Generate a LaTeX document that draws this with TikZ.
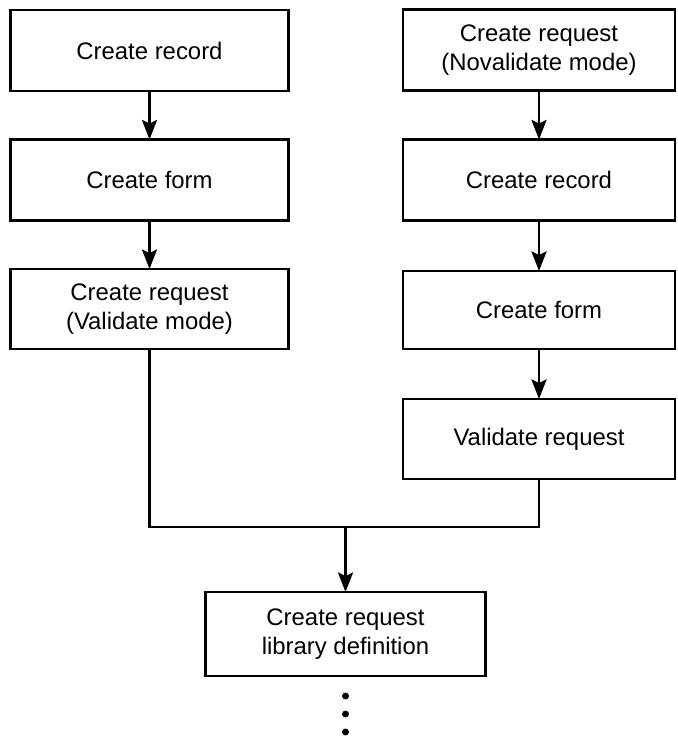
\documentclass[tikz,border=0pt]{standalone}
\usepackage{fontspec}
\setmainfont{Liberation Sans}
\usetikzlibrary{arrows.meta}

\begin{document}
\begin{tikzpicture}[x=0.02cm,y=-0.02cm,line width=1.5pt,
  every node/.style={font=\fontsize{13.6}{16.5}\selectfont},
  box/.style={draw, align=center, inner sep=0pt, outer sep=0pt, minimum width=5.56cm, minimum height=1.62cm},
  flow/.style={-{Stealth[length=3.9mm,width=3mm,inset=0.7mm]}}]
 \useasboundingbox (0,0) rectangle (678,737);
 % left branch
 \node[box] (lrec) at (149.5,50.5) {Create record};
 \node[box] (lform) at (149.5,180) {Create form};
 \node[box,minimum height=1.6cm] (lreq) at (149.5,309) {Create request\\(Validate mode)};
 % right branch
 \node[box,minimum width=5.44cm] (rreq) at (539,50) {Create request\\(Novalidate mode)};
 \node[box,minimum width=5.44cm] (rrec) at (539,180) {Create record};
 \node[box,minimum width=5.44cm,minimum height=1.56cm] (rform) at (539,310) {Create form};
 \node[box,minimum width=5.44cm,minimum height=1.6cm] (valid) at (539,439) {Validate request};
 % join
 \node[box,minimum width=5.6cm,minimum height=1.68cm] (libdef) at (345.5,634) {Create request\\library definition};
 \coordinate (merge) at (345.5,527);
 \draw[flow] (lrec) -- (lform);
 \draw[flow] (lform) -- (lreq);
 \draw[flow] (rreq) -- (rrec);
 \draw[flow] (rrec) -- (rform);
 \draw[flow] (rform) -- (valid);
 \draw (lreq.south) |- (merge) -| (valid.south);
 \draw[flow] (merge) -- (libdef);
 \foreach \i/\y in {1/696,2/714,3/732}
   \node[circle,fill,inner sep=1.4pt] (dot\i) at (345.5,\y) {};
\end{tikzpicture}
\end{document}
